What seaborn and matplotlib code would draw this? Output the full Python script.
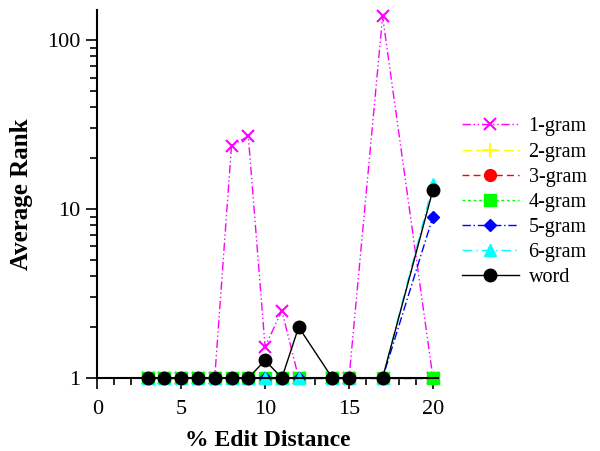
import numpy as np
import pandas as pd
import seaborn as sns
import matplotlib.pyplot as plt
from matplotlib.ticker import MultipleLocator, LogLocator, NullFormatter, FixedLocator, FixedFormatter

# Edit distance (%) values
edit_dist = [3, 4, 5, 6, 7, 8, 9, 10, 11, 12, 14, 15, 17, 20]

# Average rank per model
gram1 = [1, 1, 1, 1, 1, 23.7, 27, 1.53, 2.5, 1, 1, 1, 138, 1]
gram2 = [1, 1, 1, 1, 1, 1, 1, 1, 1, 1, 1, 1, 1, 1]
gram3 = [1, 1, 1, 1, 1, 1, 1, 1, 1, 1, 1, 1, 1, 1]
gram4 = [1, 1, 1, 1, 1, 1, 1, 1, 1, 1, 1, 1, 1, 1]
gram5 = [1, 1, 1, 1, 1, 1, 1, 1, 1, 1, 1, 1, 1, 9.0]
gram6 = [1, 1, 1, 1, 1, 1, 1, 1, 1, 1, 1, 1, 1, 14]
word = [1, 1, 1, 1, 1, 1, 1, 1.27, 1, 2, 1, 1, 1, 13]

series = {
    '1-gram': gram1, '2-gram': gram2, '3-gram': gram3, '4-gram': gram4,
    '5-gram': gram5, '6-gram': gram6, 'word': word,
}
styles = {
    '1-gram': dict(color='#ff00ff', marker='x', dashes=(6, 2, 1, 2, 1, 2), ms=9, mew=1.5),
    '2-gram': dict(color='#ffff00', marker='+', dashes=(7, 3), ms=10, mew=1.5),
    '3-gram': dict(color='#ff0000', marker='o', dashes=(5, 3), ms=8.5, mew=1),
    '4-gram': dict(color='#00ff00', marker='s', dashes=(2, 2), ms=8, mew=1),
    '5-gram': dict(color='#0000ff', marker='D', dashes=(6, 2, 1, 2), ms=6.5, mew=1),
    '6-gram': dict(color='#00ffff', marker='^', dashes=(7, 3, 1, 3), ms=8.5, mew=1),
    'word': dict(color='#000000', marker='o', dashes=(None, None), ms=9, mew=1),
}

df = pd.DataFrame({'x': edit_dist, **series})

plt.rcParams['font.family'] = ['Liberation Serif', 'DejaVu Serif']
fig = plt.figure(figsize=(6, 4.51), dpi=100)
ax = fig.add_axes([0.162, 0.162, 0.568, 0.815])

for name in series:
    st = styles[name]
    sns.lineplot(data=df, x='x', y=name, ax=ax, color=st['color'], marker=st['marker'],
                 markersize=st['ms'], markeredgewidth=st['mew'], markeredgecolor=st['color'],
                 linewidth=1, label=name, clip_on=False)
    line = ax.lines[-1]
    if st['dashes'][0] is None:
        line.set_linestyle('-')
    else:
        line.set_dashes(st['dashes'])

ax.set_yscale('log')
ax.set_ylim(1, 150)
ax.set_xlim(0, 20.3)
ax.xaxis.set_major_locator(MultipleLocator(5))
ax.xaxis.set_minor_locator(MultipleLocator(1))
ax.yaxis.set_major_locator(FixedLocator([1, 10, 100]))
ax.yaxis.set_major_formatter(FixedFormatter(['1', '10', '100']))
ax.yaxis.set_minor_locator(LogLocator(base=10, subs=np.arange(2, 10)))
ax.yaxis.set_minor_formatter(NullFormatter())
ax.tick_params(axis='both', which='major', direction='out', length=8, width=1.2, labelsize=16, colors='black')
ax.tick_params(axis='both', which='minor', direction='out', length=5, width=1.2)
ax.tick_params(axis='y', pad=4)
ax.tick_params(axis='x', pad=8)
for s in ['top', 'right']:
    ax.spines[s].set_visible(False)
for s in ['left', 'bottom']:
    ax.spines[s].set_linewidth(1.5)
ax.set_xlabel('% Edit Distance', fontsize=17, fontweight='bold', labelpad=8)
ax.set_ylabel('Average Rank', fontsize=18, fontweight='bold', labelpad=10)

leg = ax.legend(loc='upper left', bbox_to_anchor=(0.74, 0.78), bbox_transform=fig.transFigure,
                frameon=False, fontsize=14.5, handlelength=2.8, handletextpad=0.5, labelspacing=0.3)

fig.savefig('out.png', dpi=100)
